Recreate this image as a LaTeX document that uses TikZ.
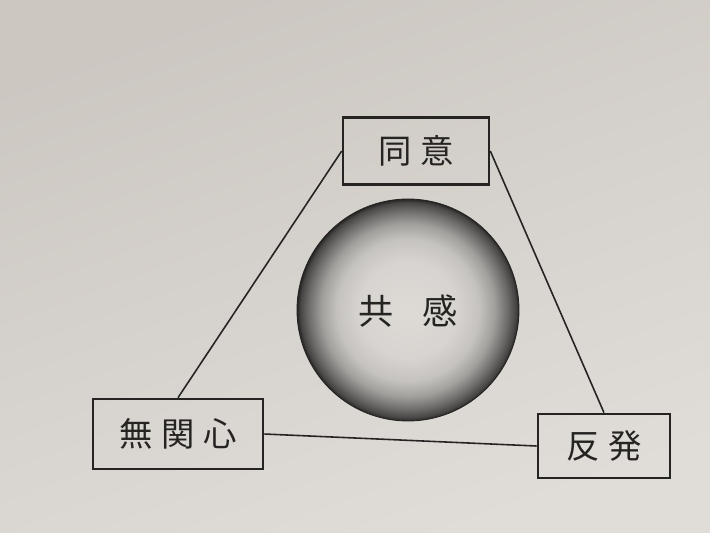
\documentclass[tikz,border=0pt]{standalone}
\usepackage{fontspec}
\usepackage{xcolor}
\newfontfamily\jp{Noto Sans CJK JP}
\definecolor{paper}{RGB}{224,221,217}
\definecolor{paperdark}{RGB}{204,199,193}
\definecolor{ink}{RGB}{38,36,35}
\pgfdeclareradialshading{ball}{\pgfpoint{0bp}{0bp}}{%
  color(0bp)=(paper!99!black); color(11bp)=(paper!96!black);
  color(16bp)=(paper!88!black); color(19.5bp)=(paper!72!black);
  color(22.5bp)=(paper!48!black); color(24.3bp)=(ink!85!white);
  color(25bp)=(ink); color(50bp)=(ink)}
\tikzset{
  box/.style={draw=ink, line width=1.5pt, inner sep=0pt, text=ink,
    font=\jp\fontsize{19}{21}\selectfont},
  link/.style={draw=ink, line width=0.9pt}
}

\begin{document}
\begin{tikzpicture}[x=0.02cm, y=-0.02cm]
  % Paper
  \useasboundingbox (0,0) rectangle (710,532);
  \shade[top color=paperdark, bottom color=paper, shading angle=20] (0,0) rectangle (710,532);

  % The ball
  \shade[shading=ball] (408,310) circle (2.22cm);
  \draw[ink, line width=0.5pt] (408,310) circle (2.22cm);
  \node (kyokan) at (408,311) {\jp\fontsize{20}{22}\selectfont\color{ink}共\hspace{16pt}感};

  % The three boxes
  \node[box, minimum width=2.92cm, minimum height=1.34cm] (doui) at (416,151) {同\hspace{5pt}意};
  \node[box, minimum width=3.4cm, minimum height=1.4cm] (mukanshin) at (178,434) {無\hspace{5pt}関\hspace{5pt}心};
  \node[box, minimum width=2.64cm, minimum height=1.28cm] (hanpatsu) at (604,446) {反\hspace{5pt}発};

  % Sides of the triangle
  \draw[link] (doui.west) -- (mukanshin.north);
  \draw[link] (doui.east) -- (hanpatsu.north);
  \draw[link] (mukanshin.east) -- (hanpatsu.west);
\end{tikzpicture}
\end{document}
